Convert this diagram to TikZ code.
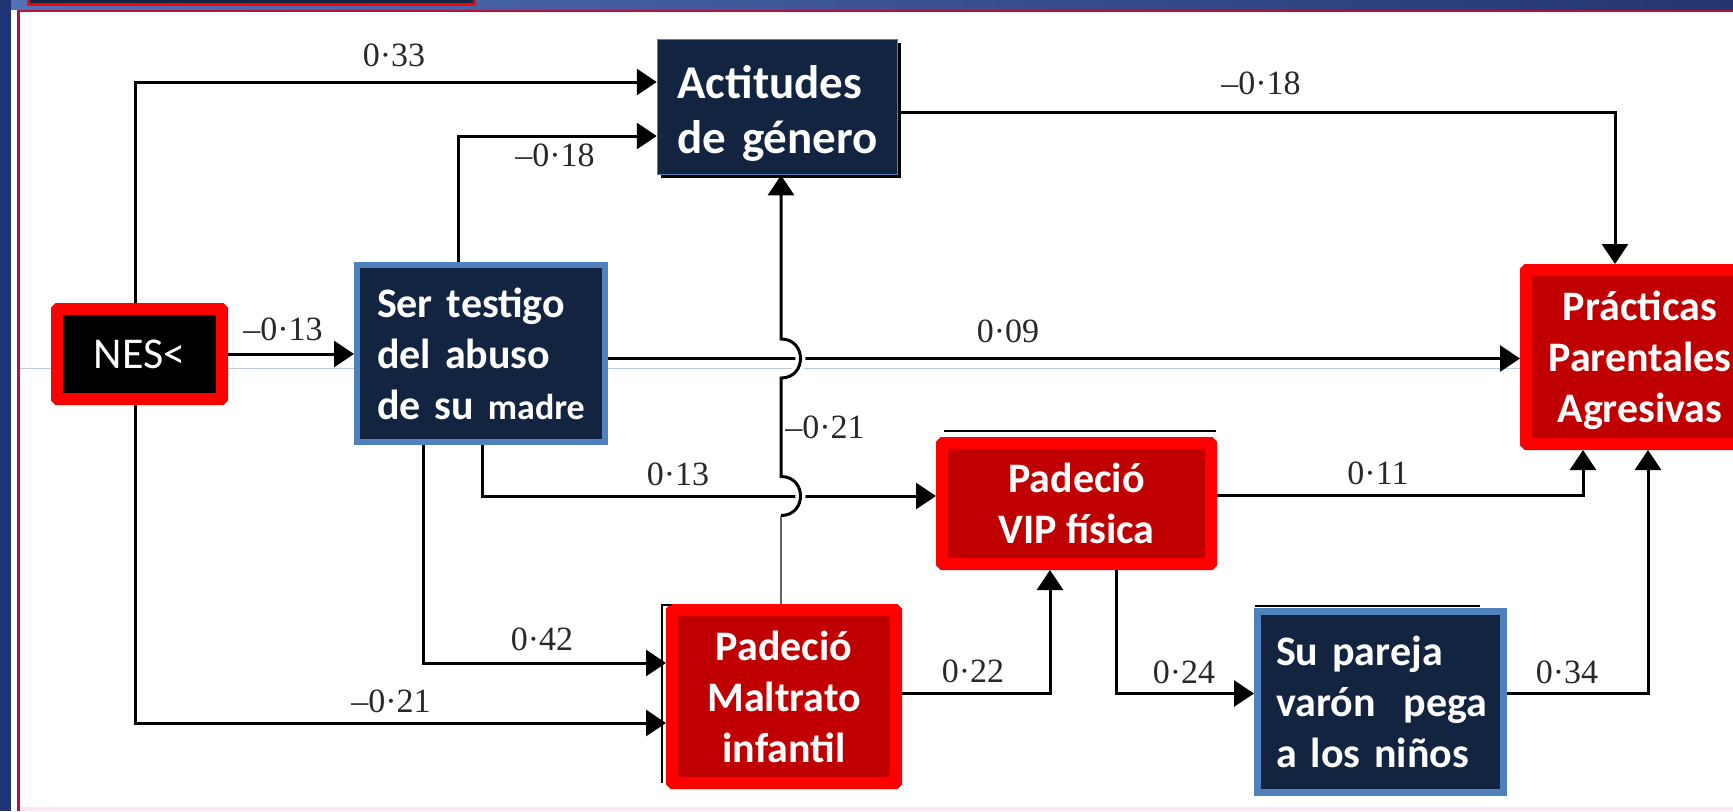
\documentclass[tikz,border=0pt]{standalone}
\usepackage{fontspec}
\setmainfont{Carlito}
\newfontfamily\labfont{Liberation Serif}
\usetikzlibrary{arrows.meta,calc,shadows}
\definecolor{navy}{RGB}{18,36,63}
\definecolor{lblue}{RGB}{79,129,189}
\definecolor{dred}{RGB}{192,0,0}
\definecolor{frred}{RGB}{181,16,62}
\definecolor{barblue}{RGB}{31,52,115}
\definecolor{bandL}{RGB}{82,114,184}
\definecolor{bandR}{RGB}{34,54,110}
\definecolor{faint}{RGB}{192,200,222}
\definecolor{labgray}{RGB}{40,40,40}
\definecolor{pinkish}{RGB}{252,232,245}
\definecolor{lowgray}{RGB}{100,100,100}
\tikzset{
  boldtext/.style={text=white,font=\bfseries\fontsize{21}{25.5}\selectfont},
  nesbox/.style={fill=black,draw=red,line width=6pt,rounded corners=0.5pt,
    minimum width=82.5pt,minimum height=45pt,inner sep=0pt,text=white,
    font=\fontsize{22}{26}\selectfont},
  redbox/.style={boldtext,fill=dred,draw=red,line width=6pt,rounded corners=0.5pt,
    align=center,inner sep=0pt,text depth=0pt},
  navybox/.style={boldtext,fill=navy,draw=lblue,align=left,inner ysep=0pt},
  conn/.style={line width=1.5pt,black},
  arr/.style={conn,-{Triangle[length=10pt,width=13pt]}},
  halo/.style={white,line width=5pt},
  lab/.style={font=\labfont\fontsize{17}{20}\selectfont,text=labgray,inner sep=0pt},
  artifact/.style={line width=1pt,black}
}
\begin{document}
\begin{tikzpicture}[x=0.5pt,y=-0.5pt]
\useasboundingbox (0,0) rectangle (1733,811);
\fill[white] (0,0) rectangle (1733,811);
% slide frame
\fill[barblue] (0,0) rectangle (11,811);
\shade[left color=bandL,right color=bandR] (11,0) rectangle (1733,9.5);
\fill[frred] (17,9.5) rectangle (1733,12);
\fill[frred] (17,9.5) rectangle (20,811);
\draw[red,line width=1.5pt,fill=navy] (28,-10) rectangle (474,4.5);
\fill[pinkish] (20,807) rectangle (1733,811);
\draw[faint,line width=0.5pt] (20,368) -- (1520,368);

% nodes
\node[nesbox] (nes) at (139.5,354) {NES<};
\node[navybox,line width=3pt,minimum width=124pt,minimum height=88.5pt,
      text width=104pt,inner xsep=10pt] (ser) at (481,353.5)
      {Ser~testigo\\del~abuso\\de~su~{\fontsize{18}{25.5}\selectfont madre}};
\node[navybox,line width=0.75pt,minimum width=120pt,minimum height=67.5pt,
      text width=100pt,inner xsep=10pt,text depth=25pt,
      font=\bfseries\fontsize{23.5}{27.5}\selectfont,
      drop shadow={shadow xshift=1.6pt,shadow yshift=-1.6pt,fill=black,opacity=1}]
      (act) at (777.5,107) {Actitudes\\de~género};
\node[redbox,minimum width=114pt,minimum height=87pt] (prac) at (1640,357)
      {Prácticas\\Parentales\\Agresivas};
\node[redbox,minimum width=134.5pt,minimum height=60.5pt] (vip) at (1076.5,503.5)
      {Padeció\\VIP~física};
\node[redbox,minimum width=112pt,minimum height=86.5pt] (mal) at (784,696.5)
      {Padeció\\Maltrato\\infantil};
\node[navybox,line width=3.5pt,minimum width=123pt,minimum height=90.5pt,
      text width=104.5pt,inner xsep=9.25pt] (su) at (1380.5,702)
      {Su~pareja\\varón~~pega\\a~los~niños};

% box artifacts (thin black edges)
\draw[artifact] ($(vip.north west)+(8,-6)$) -- ($(vip.north east)+(-1,-6)$);
\draw[artifact] ($(mal.north west)+(6,1)$) -- ($(mal.north west)+(-4,1)$) -- ($(mal.south west)+(-4,-6)$);
\draw[artifact] ($(su.north west)+(1,-2)$) -- ($(su.north east)+(-27,-2)$);

% connectors
\draw[arr] (nes.east) -- (nes.east -| ser.west);
\draw[arr] ($(nes.north)+(-4.5,0)$) |- ($(act.west)+(0,-25)$);
\draw[arr] ($(nes.south)+(-4.5,0)$) |- ($(mal.west)+(0,26.5)$);
\draw[arr] ($(ser.north)+(-23,0)$) |- ($(act.west)+(0,29)$);
\coordinate (h09) at ($(ser.east)+(0,5)$);
\draw[arr] (h09) -- (h09 -| prac.west);
\coordinate (h13) at ($(vip.west)+(0,-7.5)$);
\draw[arr] ($(ser.south)+(1,0)$) |- (h13);
\draw[arr] ($(ser.south)+(-58,0)$) |- ($(mal.west)+(0,-33.5)$);
\draw[arr] ($(mal.east)+(0,-3.5)$) -| ($(vip.south)+(-26.5,0)$);
\draw[arr] ($(vip.south)+(39.5,0)$) |- ($(su.west)+(0,-8.5)$);
\draw[arr] ($(vip.east)+(0,-8.5)$) -| ($(prac.south)+(-57,0)$);
\draw[arr] ($(su.east)+(0,-9)$) -| ($(prac.south)+(8,0)$);
\draw[arr] ($(act.east)+(0,5)$) -| ($(prac.north)+(-25,0)$);

% Maltrato -> Actitudes with line jumps
\coordinate (v0) at ($(mal.north)+(-3,0)$);
\coordinate (j1) at (v0 |- h13);
\coordinate (j2) at (v0 |- h09);
\draw[halo] ($(j1)+(0,19.5)$) .. controls ($(j1)+(26,19.5)$) and ($(j1)+(26,-19.5)$) .. ($(j1)+(0,-19.5)$);
\draw[halo] ($(j2)+(0,19.5)$) .. controls ($(j2)+(26,19.5)$) and ($(j2)+(26,-19.5)$) .. ($(j2)+(0,-19.5)$);
\draw[line width=1.1pt,lowgray] (v0) -- ($(j1)+(0,19.5)$);
\draw[arr] ($(j1)+(0,19.5)$) .. controls ($(j1)+(26,19.5)$) and ($(j1)+(26,-19.5)$) .. ($(j1)+(0,-19.5)$)
  -- ($(j2)+(0,19.5)$) .. controls ($(j2)+(26,19.5)$) and ($(j2)+(26,-19.5)$) .. ($(j2)+(0,-19.5)$)
  -- (v0 |- act.south);

% labels
\node[lab] (l1) at (394,55) {0·33};
\node[lab] (l2) at (555,155) {–0·18};
\node[lab] (l3) at (283,329) {–0·13};
\node[lab] (l4) at (1261,83) {–0·18};
\node[lab] (l5) at (1008,331) {0·09};
\node[lab] (l6) at (825,427) {–0·21};
\node[lab] (l7) at (678,474) {0·13};
\node[lab] (l8) at (1378,473) {0·11};
\node[lab] (l9) at (542,639) {0·42};
\node[lab] (l10) at (391,701) {–0·21};
\node[lab] (l11) at (973,671) {0·22};
\node[lab] (l12) at (1184,672) {0·24};
\node[lab] (l13) at (1567,672) {0·34};
\end{tikzpicture}
\end{document}
